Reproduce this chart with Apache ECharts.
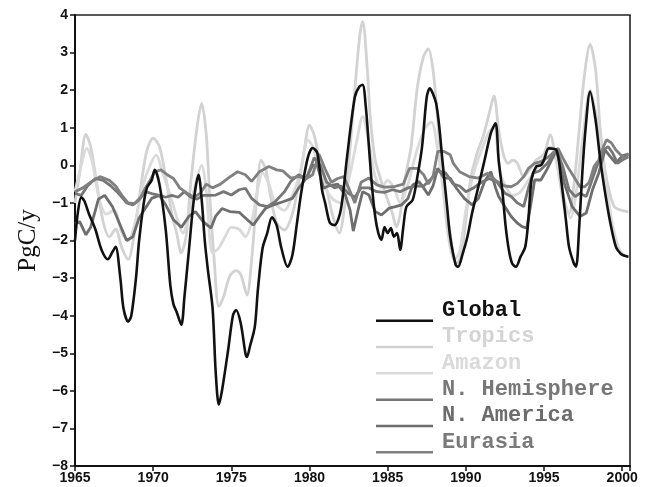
<!DOCTYPE html>
<html>
<head>
<meta charset="utf-8">
<script src="https://cdn.jsdelivr.net/npm/echarts@6/dist/echarts.min.js"></script>
<style>html,body{margin:0;padding:0;background:#fff;}#c{width:648px;height:487px;}</style>
</head>
<body>
<div id="c"></div>
<script>
const seriesNames = ['Global','Tropics','Amazon','N. Hemisphere','N. America','Eurasia'];
const xTicks = [1965,1970,1975,1980,1985,1990,1995,2000];
const yTicks = [-8,-7,-6,-5,-4,-3,-2,-1,0,1,2,3,4];

const globalFlux = [[1965.0,-2.0],[1965.2,-1.2],[1965.4,-0.85],[1965.6,-0.95],[1965.9,-1.3],[1966.3,-1.7],[1966.7,-2.25],[1967.1,-2.5],[1967.4,-2.3],[1967.6,-2.17],[1967.9,-3.0],[1968.1,-3.8],[1968.4,-4.16],[1968.6,-4.0],[1968.9,-3.0],[1969.1,-2.0],[1969.4,-1.0],[1969.6,-0.6],[1969.9,-0.4],[1970.1,-0.12],[1970.4,-0.5],[1970.8,-1.7],[1971.1,-3.2],[1971.3,-3.7],[1971.5,-3.9],[1971.8,-4.24],[1972.0,-3.5],[1972.3,-2.2],[1972.6,-0.92],[1972.9,-0.25],[1973.1,-0.9],[1973.3,-2.0],[1973.5,-2.78],[1973.8,-3.8],[1974.0,-5.5],[1974.2,-6.37],[1974.4,-6.0],[1974.8,-4.9],[1975.1,-4.0],[1975.3,-3.85],[1975.6,-4.2],[1975.9,-5.0],[1976.0,-5.1],[1976.2,-4.8],[1976.5,-4.3],[1976.7,-3.3],[1977.0,-2.2],[1977.3,-1.8],[1977.6,-1.38],[1977.9,-1.6],[1978.2,-2.2],[1978.6,-2.7],[1978.9,-2.4],[1979.2,-1.53],[1979.5,-0.65],[1979.9,0.22],[1980.2,0.46],[1980.5,0.33],[1980.8,-0.65],[1981.0,-1.0],[1981.3,-1.53],[1981.6,-1.59],[1982.0,-1.19],[1982.4,0.22],[1982.9,1.82],[1983.2,2.1],[1983.4,2.14],[1983.6,1.56],[1983.8,0.5],[1984.0,-0.57],[1984.2,-1.36],[1984.4,-1.8],[1984.6,-1.98],[1984.8,-1.64],[1985.0,-1.8],[1985.2,-1.67],[1985.4,-1.9],[1985.6,-1.8],[1985.8,-2.25],[1986.0,-1.64],[1986.2,-1.1],[1986.6,-0.92],[1986.9,-0.3],[1987.2,0.5],[1987.5,1.82],[1987.7,2.05],[1987.9,1.9],[1988.1,1.65],[1988.3,1.03],[1988.5,0.14],[1988.8,-1.1],[1989.0,-1.9],[1989.35,-2.65],[1989.5,-2.7],[1989.8,-2.35],[1990.1,-1.9],[1990.4,-1.27],[1990.8,-0.57],[1991.2,0.14],[1991.6,0.86],[1991.9,1.12],[1992.1,0.14],[1992.35,-0.74],[1992.55,-1.64],[1992.75,-2.25],[1992.95,-2.6],[1993.2,-2.7],[1993.5,-2.43],[1993.8,-2.17],[1994.0,-1.45],[1994.2,-0.38],[1994.5,-0.03],[1994.8,0.0],[1995.0,0.14],[1995.3,0.45],[1995.8,0.4],[1996.1,-0.4],[1996.4,-1.45],[1996.6,-2.17],[1996.9,-2.6],[1997.05,-2.7],[1997.25,-1.64],[1997.45,-0.2],[1997.65,0.94],[1997.95,1.96],[1998.3,1.2],[1998.6,0.14],[1998.95,-0.84],[1999.25,-1.55],[1999.6,-2.17],[1999.9,-2.35],[2000.1,-2.4],[2000.4,-2.43]];

const tropicsFlux = [[1965.0,-1.0],[1965.3,-0.2],[1965.7,0.82],[1966.0,0.5],[1966.4,-0.5],[1966.8,-1.5],[1967.2,-1.9],[1967.6,-1.7],[1968.0,-2.2],[1968.4,-2.5],[1968.8,-1.8],[1969.2,-0.6],[1969.6,0.4],[1970.0,0.72],[1970.4,0.5],[1970.8,-0.3],[1971.2,-1.3],[1971.5,-1.8],[1971.8,-2.33],[1972.1,-1.9],[1972.4,-0.5],[1972.8,1.0],[1973.1,1.65],[1973.4,0.8],[1973.6,-0.7],[1973.9,-2.5],[1974.2,-3.76],[1974.5,-3.5],[1974.9,-2.95],[1975.3,-2.8],[1975.6,-2.9],[1976.0,-3.45],[1976.3,-2.5],[1976.6,-1.0],[1976.9,0.14],[1977.2,-0.1],[1977.5,-0.8],[1977.9,-1.53],[1978.4,-1.72],[1978.9,-1.3],[1979.3,-0.5],[1979.6,0.22],[1980.0,1.07],[1980.3,0.8],[1980.8,-0.2],[1981.1,-0.65],[1981.5,-1.36],[1981.9,-1.8],[1982.3,-0.9],[1982.6,0.5],[1982.9,2.0],[1983.2,3.4],[1983.4,3.82],[1983.7,2.54],[1983.9,1.2],[1984.2,0.14],[1984.5,-0.3],[1984.7,-0.57],[1985.0,-0.92],[1985.3,-1.27],[1985.55,-1.64],[1985.8,-1.3],[1986.1,-0.38],[1986.5,0.5],[1986.9,2.08],[1987.3,2.9],[1987.6,3.1],[1987.9,2.54],[1988.2,1.2],[1988.5,-0.38],[1988.8,-1.64],[1989.1,-2.35],[1989.4,-2.6],[1989.7,-2.4],[1990.0,-1.45],[1990.3,-0.38],[1990.7,0.3],[1991.1,0.76],[1991.5,1.39],[1991.8,1.85],[1992.1,0.94],[1992.4,0.3],[1992.7,0.05],[1993.0,0.14],[1993.3,0.05],[1993.7,-0.3],[1994.1,-0.1],[1994.5,0.14],[1995.0,0.3],[1995.4,0.81],[1995.7,0.3],[1996.0,-0.38],[1996.3,-1.1],[1996.6,-1.27],[1996.9,-0.57],[1997.25,0.94],[1997.55,2.27],[1997.95,3.22],[1998.3,2.54],[1998.6,0.94],[1998.9,-0.12],[1999.2,-0.74],[1999.5,-1.1],[1999.9,-1.19],[2000.4,-1.24]];

const amazonFlux = [[1965.0,-0.7],[1965.4,0.0],[1965.75,0.45],[1966.1,0.1],[1966.5,-0.8],[1967.0,-1.3],[1967.5,-1.2],[1968.0,-1.8],[1968.4,-2.0],[1968.8,-1.6],[1969.3,-0.6],[1969.8,0.0],[1970.2,0.27],[1970.6,-0.2],[1971.1,-0.8],[1971.6,-1.5],[1971.9,-1.8],[1972.3,-1.3],[1972.7,-0.5],[1973.1,0.0],[1973.4,-0.7],[1973.8,-2.33],[1974.2,-2.2],[1974.6,-1.9],[1975.0,-1.65],[1975.5,-1.7],[1975.9,-1.9],[1976.3,-1.5],[1976.7,-0.6],[1977.0,-0.2],[1977.4,-0.5],[1977.8,-1.0],[1978.4,-1.2],[1978.9,-0.8],[1979.4,-0.2],[1979.9,0.67],[1980.2,0.5],[1980.6,-0.1],[1981.0,-0.6],[1981.5,-0.9],[1982.0,-1.0],[1982.5,-0.4],[1983.0,0.6],[1983.4,1.3],[1983.8,0.6],[1984.2,-0.3],[1984.6,-0.6],[1985.0,-0.4],[1985.4,-0.6],[1985.8,-1.0],[1986.3,-0.5],[1986.8,0.3],[1987.4,1.0],[1987.8,1.15],[1988.2,0.4],[1988.6,-0.8],[1989.0,-1.8],[1989.3,-2.5],[1989.6,-2.3],[1990.0,-1.2],[1990.5,-0.2],[1991.0,0.4],[1991.5,0.9],[1991.8,1.0],[1992.2,-0.2],[1992.6,-0.6],[1993.0,-0.8],[1993.5,-0.7],[1994.0,-0.4],[1994.5,-0.1],[1995.0,0.2],[1995.4,0.5],[1995.8,0.1],[1996.3,-0.9],[1996.7,-1.4],[1997.0,-0.9],[1997.5,0.8],[1997.95,2.0],[1998.3,1.4],[1998.7,0.2],[1999.1,-0.9],[1999.5,-1.8],[1999.9,-2.3],[2000.4,-2.45]];

const nHemisphereFlux = [[1965.0,-0.75],[1965.4,-0.8],[1965.8,-0.55],[1966.3,-0.35],[1966.8,-0.4],[1967.3,-0.55],[1967.8,-0.75],[1968.3,-1.0],[1968.7,-1.05],[1969.1,-0.92],[1969.5,-0.7],[1969.9,-0.75],[1970.4,-0.8],[1970.8,-0.85],[1971.2,-0.8],[1971.6,-0.85],[1972.0,-0.7],[1972.4,-0.85],[1972.8,-0.9],[1973.2,-0.8],[1973.6,-0.8],[1974.0,-0.79],[1974.5,-0.7],[1975.0,-0.79],[1975.5,-0.65],[1975.9,-0.61],[1976.3,-0.88],[1976.8,-1.05],[1977.3,-1.1],[1977.8,-0.97],[1978.4,-0.7],[1978.8,-0.43],[1979.3,-0.25],[1979.8,-0.35],[1980.3,0.2],[1980.7,0.0],[1981.1,-0.45],[1981.6,-0.6],[1982.0,-0.55],[1982.5,-0.75],[1982.9,-0.85],[1983.3,-0.6],[1983.8,-0.6],[1984.3,-0.7],[1984.8,-0.72],[1985.3,-0.65],[1985.8,-0.7],[1986.3,-0.6],[1986.8,-0.55],[1987.3,-0.55],[1987.8,-0.35],[1988.2,-0.15],[1988.7,-0.2],[1989.2,-0.5],[1989.6,-0.55],[1990.0,-0.7],[1990.5,-0.6],[1991.0,-0.45],[1991.5,-0.35],[1992.0,-0.45],[1992.5,-0.74],[1992.9,-0.83],[1993.3,-1.0],[1993.7,-1.1],[1994.0,-0.61],[1994.3,-0.21],[1994.7,-0.15],[1995.2,0.05],[1995.8,0.41],[1996.2,-0.03],[1996.6,-0.65],[1997.0,-0.83],[1997.3,-0.74],[1997.7,-0.83],[1998.0,-0.48],[1998.3,-0.12],[1998.8,0.41],[1999.1,0.5],[1999.4,0.32],[1999.7,0.05],[2000.0,0.14],[2000.4,0.23]];

const nAmericaFlux = [[1965.0,-1.55],[1965.3,-1.5],[1965.7,-1.85],[1966.0,-1.65],[1966.5,-0.9],[1966.9,-0.8],[1967.4,-1.1],[1967.8,-1.5],[1968.3,-2.0],[1968.7,-1.9],[1969.1,-1.4],[1969.5,-1.14],[1969.9,-0.88],[1970.4,-0.8],[1970.8,-1.05],[1971.3,-1.45],[1971.8,-1.65],[1972.3,-1.35],[1972.7,-1.23],[1973.2,-1.5],[1973.7,-1.67],[1974.0,-1.35],[1974.4,-1.15],[1974.9,-1.23],[1975.5,-1.25],[1975.9,-1.4],[1976.4,-1.59],[1976.8,-1.36],[1977.2,-1.14],[1977.7,-1.05],[1978.3,-0.97],[1978.9,-0.88],[1979.3,-0.61],[1979.8,-0.34],[1980.2,0.0],[1980.5,0.0],[1980.9,-0.61],[1981.2,-0.55],[1981.8,-0.5],[1982.3,-0.8],[1982.6,-1.2],[1982.8,-1.75],[1983.1,-1.2],[1983.4,-0.7],[1983.8,-0.79],[1984.2,-1.23],[1984.6,-1.32],[1985.1,-1.14],[1985.5,-1.1],[1985.9,-1.05],[1986.3,-0.88],[1986.6,-0.52],[1987.0,-0.43],[1987.3,-0.6],[1987.6,-0.79],[1987.9,-0.55],[1988.2,-0.08],[1988.6,-0.34],[1989.0,-0.34],[1989.4,-0.61],[1989.9,-0.88],[1990.4,-1.05],[1990.8,-0.88],[1991.2,-0.43],[1991.6,-0.17],[1991.9,-0.6],[1992.1,-0.83],[1992.5,-1.1],[1992.9,-1.36],[1993.3,-1.54],[1993.6,-1.63],[1993.9,-1.67],[1994.2,-0.92],[1994.4,-0.39],[1994.8,-0.39],[1995.2,-0.1],[1995.8,0.41],[1996.3,-0.48],[1996.8,-1.1],[1997.3,-1.36],[1997.7,-1.27],[1998.1,-0.65],[1998.5,-0.21],[1998.9,0.41],[1999.2,0.25],[1999.6,0.05],[2000.0,0.25],[2000.4,0.3]];

const eurasiaFlux = [[1965.0,-0.7],[1965.5,-0.6],[1966.0,-0.45],[1966.6,-0.3],[1967.2,-0.4],[1967.6,-0.55],[1968.0,-0.8],[1968.4,-1.0],[1968.8,-1.02],[1969.2,-0.85],[1969.5,-0.6],[1969.8,-0.4],[1970.1,-0.17],[1970.5,-0.12],[1970.9,-0.25],[1971.3,-0.35],[1971.7,-0.6],[1972.2,-0.75],[1972.6,-0.85],[1973.0,-0.75],[1973.4,-0.5],[1973.8,-0.6],[1974.3,-0.5],[1974.8,-0.34],[1975.4,-0.17],[1975.9,-0.25],[1976.3,-0.43],[1976.8,-0.17],[1977.4,-0.03],[1977.9,-0.12],[1978.3,-0.15],[1978.8,-0.34],[1979.3,-0.3],[1979.8,-0.35],[1980.2,-0.25],[1980.6,0.3],[1981.0,-0.1],[1981.4,-0.45],[1981.8,-0.35],[1982.2,-0.3],[1982.6,-0.7],[1982.9,-1.0],[1983.3,-0.45],[1983.8,-0.34],[1984.3,-0.52],[1984.8,-0.58],[1985.4,-0.57],[1986.0,-0.5],[1986.4,-0.08],[1986.9,-0.08],[1987.3,-0.25],[1987.6,-0.5],[1987.9,-0.3],[1988.2,0.37],[1988.6,0.37],[1989.0,0.28],[1989.2,0.05],[1989.6,-0.17],[1990.2,-0.3],[1990.8,-0.34],[1991.4,-0.21],[1991.9,-0.4],[1992.5,-0.55],[1992.9,-0.57],[1993.3,-0.48],[1993.7,-0.3],[1994.0,-0.08],[1994.4,0.05],[1994.8,0.1],[1995.3,0.23],[1995.9,0.45],[1996.2,0.2],[1996.5,-0.03],[1996.9,-0.3],[1997.3,-0.57],[1997.6,-0.57],[1997.9,-0.45],[1998.2,-0.03],[1998.5,0.14],[1998.8,0.5],[1999.0,0.68],[1999.3,0.6],[1999.6,0.41],[1999.9,0.28],[2000.2,0.19],[2000.4,0.32]];

const lineColors = {'Global':'#111111','Tropics':'#d2d2d2','Amazon':'#dadada','N. Hemisphere':'#767676','N. America':'#6e6e6e','Eurasia':'#808080'};
const textColors = {'Global':'#111111','Tropics':'#d4d4d4','Amazon':'#dadada','N. Hemisphere':'#777777','N. America':'#6c6c6c','Eurasia':'#7a7a7a'};
const dataByName = {'Global':globalFlux,'Tropics':tropicsFlux,'Amazon':amazonFlux,'N. Hemisphere':nHemisphereFlux,'N. America':nAmericaFlux,'Eurasia':eurasiaFlux};
const drawOrder = ['Tropics','Amazon','N. America','N. Hemisphere','Eurasia','Global'];

const chart = echarts.init(document.getElementById('c'), null, {renderer:'canvas'});
const minus = v => String(v).replace('-', '\u2212');
const legendIcon = 'path://M0,0L1,0L1,0.01L0,0.01Z M0,20.5L57,20.5L57,23L0,23Z';

chart.setOption({
  backgroundColor:'#ffffff',
  animation:false,
  grid:{left:75,right:18,top:15,bottom:21,show:true,borderColor:'#222',borderWidth:1.6,backgroundColor:'transparent'},
  xAxis:{type:'value',min:1965,max:2000.5,interval:5,
    axisLine:{show:true,onZero:false,lineStyle:{color:'#111',width:2}},
    axisTick:{show:true,length:5,inside:false,lineStyle:{color:'#111',width:1.5}},
    splitLine:{show:false},
    axisLabel:{margin:5,color:'#111',fontFamily:'Liberation Sans',fontSize:14,fontWeight:'bold',
      formatter:v => (xTicks.indexOf(v) >= 0 ? String(v) : '')}},
  yAxis:{type:'value',min:-8,max:4,interval:1,
    name:'PgC/y',nameLocation:'middle',nameRotate:90,nameGap:33,
    nameTextStyle:{fontFamily:'Liberation Serif',fontSize:25,color:'#111'},
    axisLine:{show:true,onZero:false,lineStyle:{color:'#111',width:2}},
    axisTick:{show:true,length:5,lineStyle:{color:'#111',width:1.5}},
    splitLine:{show:false},
    axisLabel:{margin:7,color:'#111',fontFamily:'Liberation Sans',fontSize:14,fontWeight:'bold',
      formatter:v => (yTicks.indexOf(v) >= 0 ? minus(v) : '')}},
  legend:{orient:'vertical',left:371,top:294,itemWidth:57,itemHeight:23,itemGap:3.3,
    selectedMode:false,icon:legendIcon,
    textStyle:{fontFamily:'Liberation Mono',fontWeight:'bold',fontSize:22,padding:[0,0,0,4]},
    data:seriesNames.map(n => ({name:n,icon:legendIcon,itemStyle:{color:lineColors[n]},textStyle:{color:textColors[n]}}))},
  series:drawOrder.map(n => ({
    name:n,type:'line',data:dataByName[n],showSymbol:false,symbol:'none',
    smooth:(n==='Global'||n==='Tropics'||n==='Amazon') ? 0.3 : false,
    lineStyle:{color:lineColors[n],width:n==='Global'?2.6:2.8},
    itemStyle:{color:lineColors[n]},
    z: n==='Global' ? 5 : 2
  }))
});
</script>
</body>
</html>
